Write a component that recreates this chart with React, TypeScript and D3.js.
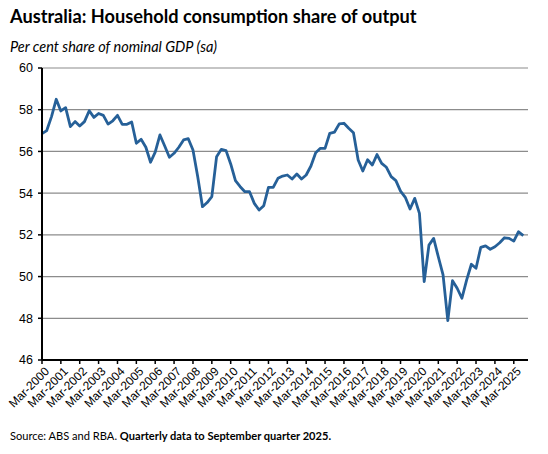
import * as d3 from 'd3';
import * as React from 'react';

// Household consumption, per cent of nominal GDP, quarterly from Mar-2000
const firstYear = 2000;
const firstMonth = 2; // March
const shareValues = [
  56.85, 57.0, 57.67, 58.5, 57.94, 58.1, 57.19, 57.43,
  57.22, 57.43, 57.95, 57.63, 57.82, 57.73, 57.31, 57.47,
  57.73, 57.3, 57.3, 57.41, 56.39, 56.58, 56.2, 55.48,
  55.97, 56.79, 56.26, 55.72, 55.91, 56.2, 56.55, 56.61,
  56.07, 54.79, 53.35, 53.55, 53.83, 55.75, 56.1, 56.04,
  55.4, 54.6, 54.31, 54.07, 54.07, 53.51, 53.19, 53.4,
  54.28, 54.28, 54.71, 54.82, 54.87, 54.68, 54.92, 54.68,
  54.87, 55.3, 55.94, 56.15, 56.15, 56.87, 56.93, 57.32,
  57.35, 57.11, 56.9, 55.59, 55.06, 55.6, 55.35, 55.85,
  55.43, 55.24, 54.79, 54.6, 54.1, 53.8, 53.24, 53.75,
  53.03, 49.76, 51.51, 51.83, 50.95, 50.08, 47.89, 49.8,
  49.44, 48.96, 49.84, 50.59, 50.4, 51.4, 51.47, 51.31,
  51.43, 51.62, 51.86, 51.83, 51.7, 52.15, 51.96,
];
const yTicks = [46, 48, 50, 52, 54, 56, 58, 60];
const tickYears = d3.range(2000, 2026);

const title = 'Australia: Household consumption share of output';
const subtitle = 'Per cent share of nominal GDP (sa)';

const W = 548;
const H = 454;
const left = 42;
const right = 528;
const top = 68;
const bottom = 360;

export default function App() {
  const dates = shareValues.map((_, i) => new Date(firstYear, firstMonth + 3 * i, 1));
  const x = d3.scaleTime()
    .domain([new Date(firstYear, firstMonth, 1), new Date(2025, 11, 1)])
    .range([left, right]);
  const y = d3.scaleLinear().domain([46, 60]).range([bottom, top]);
  const fmt = d3.timeFormat('%b-%Y');

  const line = d3.line<number>()
    .x((_, i) => x(dates[i]))
    .y((v) => y(v));

  const font = 'Liberation Sans, Arial, sans-serif';

  return (
    <svg width={W} height={H} style={{ position: 'absolute', left: 0, top: 0, background: '#fff' }}>
      <text x={10} y={23} fontFamily="Lato, sans-serif" fontWeight="bold" fontSize={18.2} fill="#000">
        {title}
      </text>
      <text x={10} y={52} fontFamily="Lato, sans-serif" fontStyle="italic" fontSize={14.5} fill="#000">
        {subtitle}
      </text>

      {yTicks.map((t) => (
        <g key={t}>
          {t > 46 && (
            <line x1={left} x2={right} y1={y(t)} y2={y(t)} stroke="#8c8c8c" strokeWidth={1.2} />
          )}
          <line x1={left - 4} x2={left} y1={y(t)} y2={y(t)} stroke="#000" strokeWidth={1.5} />
          <text x={33} y={y(t)} dy="0.35em" textAnchor="end" fontFamily={font} fontSize={12.5} fill="#000">
            {t}
          </text>
        </g>
      ))}

      <path d={line(shareValues) ?? ''} fill="none" stroke="#266098" strokeWidth={2.8} strokeLinejoin="round" />

      <line x1={left} x2={left} y1={top} y2={bottom} stroke="#000" strokeWidth={2} />
      <line x1={left} x2={right} y1={bottom} y2={bottom} stroke="#000" strokeWidth={2} />

      {tickYears.map((yr) => {
        const d = new Date(yr, 2, 1);
        const tx = x(d);
        return (
          <g key={yr}>
            <line x1={tx} x2={tx} y1={bottom} y2={bottom + 4} stroke="#000" strokeWidth={1.5} />
            <text
              transform={`translate(${tx + 5},${bottom + 9}) rotate(-45)`}
              textAnchor="end"
              dy="0.35em"
              fontFamily={font}
              fontSize={12}
              fill="#000"
            >
              {fmt(d)}
            </text>
          </g>
        );
      })}

      <text x={10} y={440} fontFamily="Lato, sans-serif" fontSize={11.1} fill="#000">
        Source: ABS and RBA.{' '}
        <tspan fontWeight="bold">Quarterly data to September quarter 2025.</tspan>
      </text>
    </svg>
  );
}
